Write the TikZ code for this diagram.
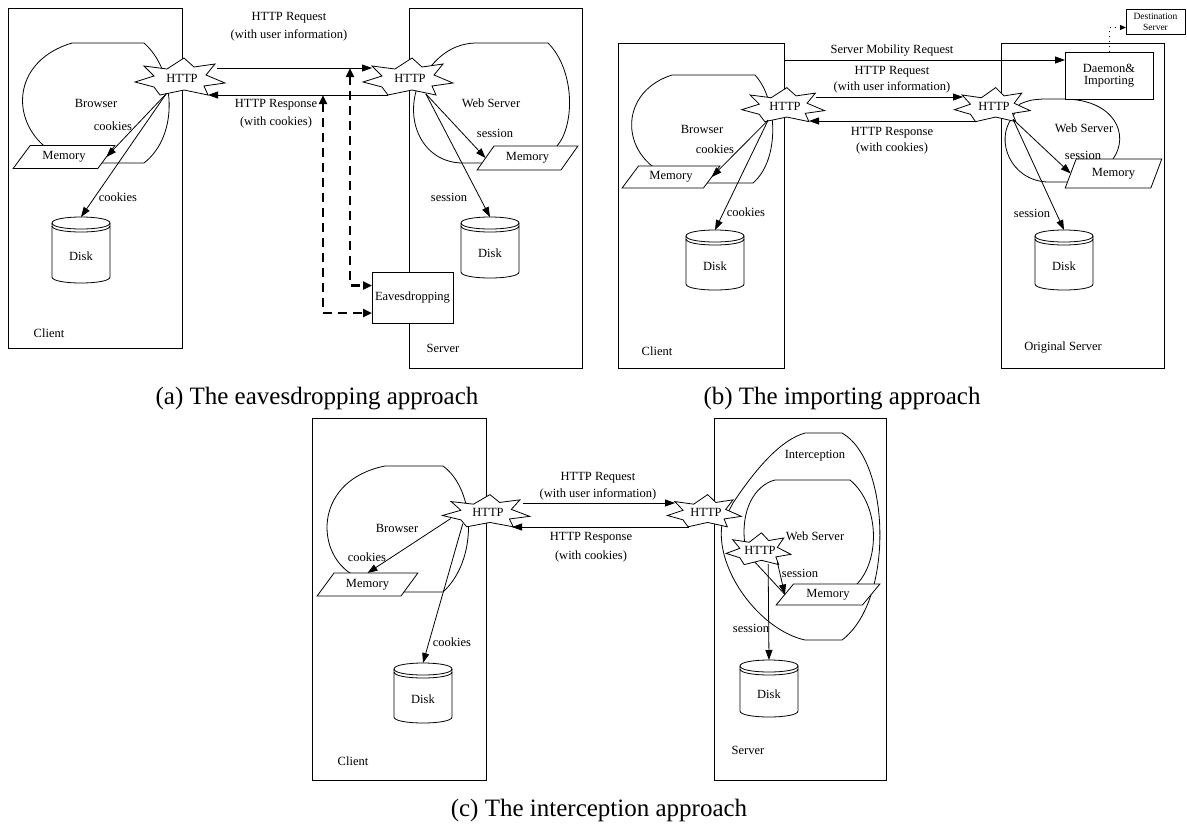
\documentclass[tikz,border=0pt]{standalone}
\usepackage{fontspec}
\setmainfont{Liberation Serif}
\usetikzlibrary{arrows.meta,shapes.geometric,calc}

\tikzset{
  every node/.style={font=\fontsize{12.5}{14}\selectfont},
  frame/.style={draw,line width=0.8pt,inner sep=0pt,outer sep=0pt},
  blob/.style={draw,line width=0.8pt},
  starline/.style={draw,fill=white,line width=0.8pt,line join=miter},
  startext/.style={ellipse,inner sep=0pt,outer sep=0pt},
  mem/.style={trapezium,trapezium left angle=45,trapezium right angle=135,
    trapezium stretches=true,draw,fill=white,line width=0.8pt,inner sep=0pt,outer sep=0pt},
  arr/.style={line width=0.8pt,-{Triangle[length=10pt,width=7pt]}},
  darr/.style={line width=2.4pt,dash pattern=on 9pt off 6pt,
    {Triangle[length=9pt,width=8pt]}-{Triangle[length=9pt,width=8pt]}},
  dotarr/.style={line width=1pt,dash pattern=on 1pt off 4pt,-{Triangle[length=6pt,width=5pt]}},
  capt/.style={font=\fontsize{25}{30}\selectfont},
  smalltext/.style={font=\fontsize{9.5}{11}\selectfont,align=center},
}

% HTTP star: name, x, y, xscale, yscale
\newcommand\hstar[5]{%
  \draw[starline,shift={(#2,#3)},xscale=#4,yscale=#5]
    (-47,4) -- (-28,-2) -- (-38,-12) -- (-15,-9) -- (2,-20) -- (12,-11) -- (33,-14)
    -- (24,-3) -- (43,5) -- (22,8) -- (26,17) -- (2,12) -- (-22,17) -- (-28,9) -- cycle;
  \node[startext,minimum width={#4*86pt},minimum height={#5*34pt}] (#1) at (#2,#3) {HTTP};
}
% Disk: name, cx, top, bottom
\newcommand\diskat[4]{%
  \draw[line width=0.8pt,fill=white] (#2-29,#3+6) .. controls (#2-29,#3-2) and (#2+29,#3-2) .. (#2+29,#3+6)
    -- (#2+29,#4-6) .. controls (#2+29,#4+2) and (#2-29,#4+2) .. (#2-29,#4-6) -- cycle;
  \draw[line width=0.8pt] (#2-29,#3+6) .. controls (#2-29,#3+14) and (#2+29,#3+14) .. (#2+29,#3+6);
  \draw[line width=0.8pt] (#2-29,#3+9) .. controls (#2-29,#3+17) and (#2+29,#3+17) .. (#2+29,#3+9);
  \node[inner sep=0pt,outer sep=0pt,minimum width=58pt,minimum height={#4-#3}] (#1) at (#2,{(#3+#4)/2}) {};
  \node at (#2,{(#3+12+#4)/2}) {Disk};
}

\begin{document}
\begin{tikzpicture}[x=1pt,y=-1pt]
\useasboundingbox (0,0) rectangle (1187,823);

% ================= (a) =================
\node[frame,minimum width=174pt,minimum height=340pt] (cla) at (95,178) {};
\node[frame,minimum width=173pt,minimum height=360pt] (sva) at (495.5,188) {};
\draw[blob] (72,43) -- (144,43) .. controls (175,70) and (180,135) .. (144,163) -- (60,163) -- (43,145)
  .. controls (10,115) and (15,60) .. (72,43) -- cycle;
\draw[blob] (432,65) .. controls (445,50) and (460,43) .. (477,43) -- (548,43)
  .. controls (575,70) and (575,125) .. (557,146) -- (557,163) -- (463,163)
  .. controls (425,163) and (405,125) .. (417,88) -- cycle;
\node[mem,minimum width=102pt,minimum height=23pt] (ma) at (64,157) {Memory};
\node[mem,minimum width=101pt,minimum height=24pt] (msa) at (527.5,158) {Memory};
\diskat{da}{81}{217}{283}
\diskat{dsa}{490}{217}{278}
\node[frame,fill=white,minimum width=81pt,minimum height=51pt] (eav) at (412.5,297.5) {Eavesdropping};
\hstar{ca}{182}{78}{1}{1}
\hstar{sa}{410}{78}{1}{1}
\draw[arr] ($(ca)+(35,-10)$) -- ($(sa)+(-38,-10)$);
\draw[arr] ($(sa)+(-22,17)$) -- ($(ca)+(26,17)$);
\draw[arr] (ca.-135) -- (ma.east);
\draw[arr] (ca.-135) -- (da.north);
\draw[arr] (sa.-45) -- (msa.west);
\draw[arr] (sa.-45) -- (dsa.north);
\coordinate (tap1) at (350,68);
\coordinate (tap2) at (323,95);
\draw[darr] (tap1) |- ([yshift=12pt]eav.west);
\draw[darr] (tap2) |- ([yshift=-15.5pt]eav.west);
\node (la1) at (289,18) {HTTP Request};
\node (la2) at (289,35) {(with user information)};
\node (la3) at (276,105) {HTTP Response};
\node (la4) at (276,122) {(with cookies)};
\node (la5) at (96,103) {Browser};
\node (la6) at (113,126) {cookies};
\node (la7) at (118,197) {cookies};
\node (la8) at (49,333) {Client};
\node (la9) at (491,103) {Web Server};
\node (la10) at (495,133) {session};
\node (la11) at (449,197) {session};
\node (la12) at (443,348) {Server};
\node[capt] (capa) at (317,399) {(a) The eavesdropping approach};

% ================= (b) =================
\node[frame,minimum width=166pt,minimum height=325pt] (clb) at (701,205.5) {};
\node[frame,minimum width=163pt,minimum height=325pt] (svb) at (1082.5,205.5) {};
\draw[blob] (672,75) -- (755,75) .. controls (778,100) and (780,160) .. (753,183) -- (700,183) -- (652,166)
  .. controls (620,140) and (625,90) .. (672,75) -- cycle;
\draw[blob] (1020,104) .. controls (1030,100) .. (1043,99) -- (1065,99)
  .. controls (1115,100) and (1130,135) .. (1113,159) -- (1113,182) -- (1047,182)
  .. controls (1010,180) and (995,140) .. (1012,118) -- cycle;
\node[frame,fill=white,minimum width=88pt,minimum height=47pt,align=center] (dm) at (1109,75.5) {Daemon\&\\[-2pt]Importing};
\node[frame,fill=white,minimum width=59pt,minimum height=25pt,smalltext] (dst) at (1155.5,21.5) {Destination\\Server};
\node[mem,minimum width=98pt,minimum height=22pt] (mb) at (671,177) {Memory};
\node[mem,minimum width=97pt,minimum height=29pt,trapezium left angle=60,trapezium right angle=120] (msb) at (1113.5,173.5) {Memory};
\diskat{db}{715}{230}{290}
\diskat{dsb}{1064}{230}{290}
\hstar{cb}{785}{106}{0.92}{0.92}
\hstar{sb}{994}{106}{0.84}{0.92}
\draw[arr] ([yshift=-17pt]clb.north east) -- ([yshift=15.5pt]dm.west);
\draw[arr] ($(cb)+(31,-9)$) -- ($(sb)+(-31,-9)$);
\draw[arr] ($(sb)+(-18,15)$) -- ($(cb)+(24,15)$);
\draw[arr] (cb.-140) -- (mb.east);
\draw[arr] (cb.-140) -- (db.north);
\draw[arr] (sb.-35) -- (msb.west);
\draw[arr] (sb.-35) -- (dsb.north);
\draw[dotarr] (dm.north) |- ([yshift=-6pt]dst.west);
\node (lb1) at (892,51) {Server Mobility Request};
\node (lb2) at (892,72) {HTTP Request};
\node (lb3) at (892,87) {(with user information)};
\node (lb4) at (892,133) {HTTP Response};
\node (lb5) at (892,148) {(with cookies)};
\node (lb6) at (702,129) {Browser};
\node (lb7) at (715,149) {cookies};
\node (lb8) at (746,212) {cookies};
\node (lb9) at (657,351) {Client};
\node (lb10) at (1084,128) {Web Server};
\node (lb11) at (1083,155) {session};
\node (lb12) at (1032,213) {session};
\node (lb13) at (1063,348) {Original Server};
\node[capt] (capb) at (842,399) {(b) The importing approach};

% ================= (c) =================
\node[frame,minimum width=174pt,minimum height=362pt] (clc) at (399,599) {};
\node[frame,minimum width=172pt,minimum height=362pt] (svc) at (800,599) {};
\draw[blob] (385,466) -- (443,466) .. controls (476,490) and (478,560) .. (443,592) -- (400,592) -- (350,573)
  .. controls (315,550) and (315,480) .. (385,466) -- cycle;
\draw[blob] (805,433) -- (842,433) .. controls (890,460) and (895,600) .. (842,640) -- (805,640)
  .. controls (760,630) and (715,570) .. (722,524) -- (733,503)
  .. controls (755,470) and (780,440) .. (805,433) -- cycle;
\draw[blob] (775,480) -- (850,480) .. controls (880,505) and (880,560) .. (857,584) -- (857,600) -- (790,600)
  -- (753,560) -- (745,545) .. controls (740,510) and (755,485) .. (775,480) -- cycle;
\node[mem,minimum width=101pt,minimum height=23pt] (mc) at (367.5,584.5) {Memory};
\node[mem,minimum width=104pt,minimum height=21pt] (msc) at (828,594.5) {Memory};
\diskat{dc}{423}{663}{723}
\diskat{dsc}{769}{660}{717}
\hstar{cc}{488}{512}{0.97}{0.87}
\hstar{sc}{706}{512}{0.82}{0.87}
\hstar{si}{760}{550}{0.72}{0.86}
\draw[arr] ($(cc)+(35,-9)$) -- ($(sc)+(-31,-9)$);
\draw[arr] ($(sc)+(-17,15)$) -- ($(cc)+(24,15)$);
\draw[arr] (cc.-170) -- (mc.north);
\draw[arr] (cc.-155) -- (dc.north);
\draw[arr] (si.-35) -- (msc.west);
\draw[arr] (si.-60) -- (dsc.north);
\node (lc1) at (598,478) {HTTP Request};
\node (lc2) at (598,494) {(with user information)};
\node (lc3) at (591,538) {HTTP Response};
\node (lc4) at (591,556) {(with cookies)};
\node (lc5) at (397,528) {Browser};
\node (lc6) at (367,557) {cookies};
\node (lc7) at (452,642) {cookies};
\node (lc8) at (353,761) {Client};
\node (lc9) at (815,456) {Interception};
\node (lc10) at (815,536) {Web Server};
\node (lc11) at (800,573) {session};
\node (lc12) at (751,628) {session};
\node (lc13) at (748,750) {Server};
\node[capt] (capc) at (599,810) {(c) The interception approach};
\end{tikzpicture}
\end{document}
